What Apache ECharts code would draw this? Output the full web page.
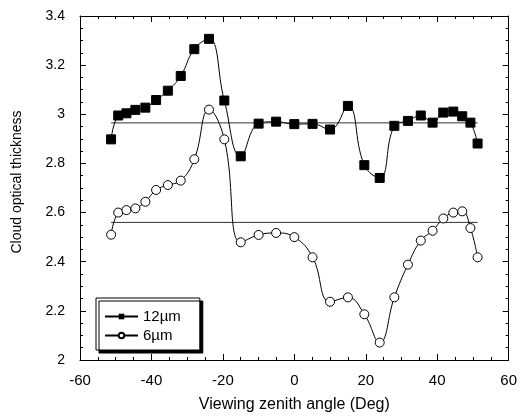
<!DOCTYPE html>
<html><head><meta charset="utf-8">
<script src="https://cdn.jsdelivr.net/npm/echarts@6/dist/echarts.min.js"></script>
<style>html,body{margin:0;padding:0;background:#fff}#c{width:520px;height:418px}</style>
</head><body><div id="c"></div>
<script>
const angles = [-51.3,-49.3,-47,-44.5,-41.7,-38.7,-35.4,-31.8,-28,-23.9,-19.6,-15,-10,-5.1,0,5.1,10,15,19.6,23.9,28,31.8,35.4,38.7,41.7,44.5,47,49.3,51.3];
const tau12 = [2.898,2.995,3.004,3.018,3.027,3.058,3.096,3.156,3.265,3.307,3.056,2.829,2.962,2.970,2.960,2.961,2.938,3.034,2.793,2.741,2.953,2.973,2.995,2.966,3.007,3.011,2.992,2.966,2.881];
const tau6 = [2.510,2.600,2.610,2.617,2.644,2.692,2.712,2.730,2.817,3.019,2.898,2.479,2.509,2.517,2.500,2.418,2.237,2.255,2.186,2.071,2.255,2.388,2.486,2.526,2.576,2.600,2.605,2.537,2.418];
const mean12 = 2.965;
const mean6 = 2.560;
const meanSpan = [-51.3, 51.3];
const xTicks = [-60,-40,-20,0,20,40,60];
const yTicks = [2,2.2,2.4,2.6,2.8,3,3.2,3.4];

const FONT = 'Liberation Sans';
const chart = echarts.init(document.getElementById('c'), null, {renderer:'canvas'});
const axisBase = {
  axisLine:{show:true, onZero:false, lineStyle:{color:'#000', width:1}},
  axisTick:{show:true, inside:true, length:6, lineStyle:{color:'#000'}},
  minorTick:{show:true, splitNumber:4, length:3, lineStyle:{color:'#000'}},
  splitLine:{show:false}
};
const toPairs = (xs, ys) => xs.map((x,i)=>[x, ys[i]]);
chart.setOption({
  animation:false,
  backgroundColor:'#fff',
  grid:{left:80, right:9, top:16, bottom:56.5, containLabel:false},
  xAxis:[
    Object.assign({type:'value', min:xTicks[0], max:xTicks[xTicks.length-1], interval:20, position:'bottom',
      name:'Viewing zenith angle (Deg)', nameLocation:'middle', nameGap:37,
      nameTextStyle:{fontFamily:FONT, fontSize:16, color:'#000'},
      axisLabel:{fontFamily:FONT, fontSize:15, color:'#000', margin:13}}, axisBase),
    Object.assign({type:'value', min:xTicks[0], max:xTicks[xTicks.length-1], interval:20, position:'top',
      axisLabel:{show:false}}, axisBase)
  ],
  yAxis:[
    Object.assign({type:'value', min:yTicks[0], max:yTicks[yTicks.length-1], interval:0.2, position:'left',
      name:'Cloud optical thickness', nameLocation:'middle', nameGap:56,
      nameTextStyle:{fontFamily:FONT, fontSize:14, color:'#000', padding:[0,0,0,12]},
      axisLabel:{fontFamily:FONT, fontSize:14, color:'#000', margin:15,
        formatter:v=>String(Math.round(v*10)/10)}}, axisBase),
    Object.assign({type:'value', min:yTicks[0], max:yTicks[yTicks.length-1], interval:0.2, position:'right',
      axisLabel:{show:false}}, axisBase)
  ],
  legend:{
    data:['12\u00b5m','6\u00b5m'],
    orient:'vertical', left:96, top:298,
    itemWidth:33, itemHeight:7, itemGap:4,
    padding:[11,19,7,8],
    backgroundColor:'#fff', borderColor:'#000', borderWidth:1,
    shadowColor:'#000', shadowBlur:0, shadowOffsetX:3, shadowOffsetY:3,
    textStyle:{fontFamily:FONT, fontSize:15, color:'#000'}
  },
  series:[
    {name:'12\u00b5m', type:'line', data:toPairs(angles,tau12), smooth:0.45,
     symbol:'rect', symbolSize:9, showAllSymbol:true,
     lineStyle:{color:'#000', width:1}, itemStyle:{color:'#000', borderColor:'#000'}, z:3},
    {name:'6\u00b5m', type:'line', data:toPairs(angles,tau6), smooth:0.45,
     symbol:'circle', symbolSize:9, showAllSymbol:true,
     lineStyle:{color:'#000', width:1}, itemStyle:{color:'#fff', borderColor:'#000', borderWidth:1}, z:3},
    {name:'mean12', type:'line', data:meanSpan.map(x=>[x,mean12]), symbol:'none',
     lineStyle:{color:'#333', width:1}, z:2},
    {name:'mean6', type:'line', data:meanSpan.map(x=>[x,mean6]), symbol:'none',
     lineStyle:{color:'#333', width:1}, z:2}
  ]
});
</script></body></html>
